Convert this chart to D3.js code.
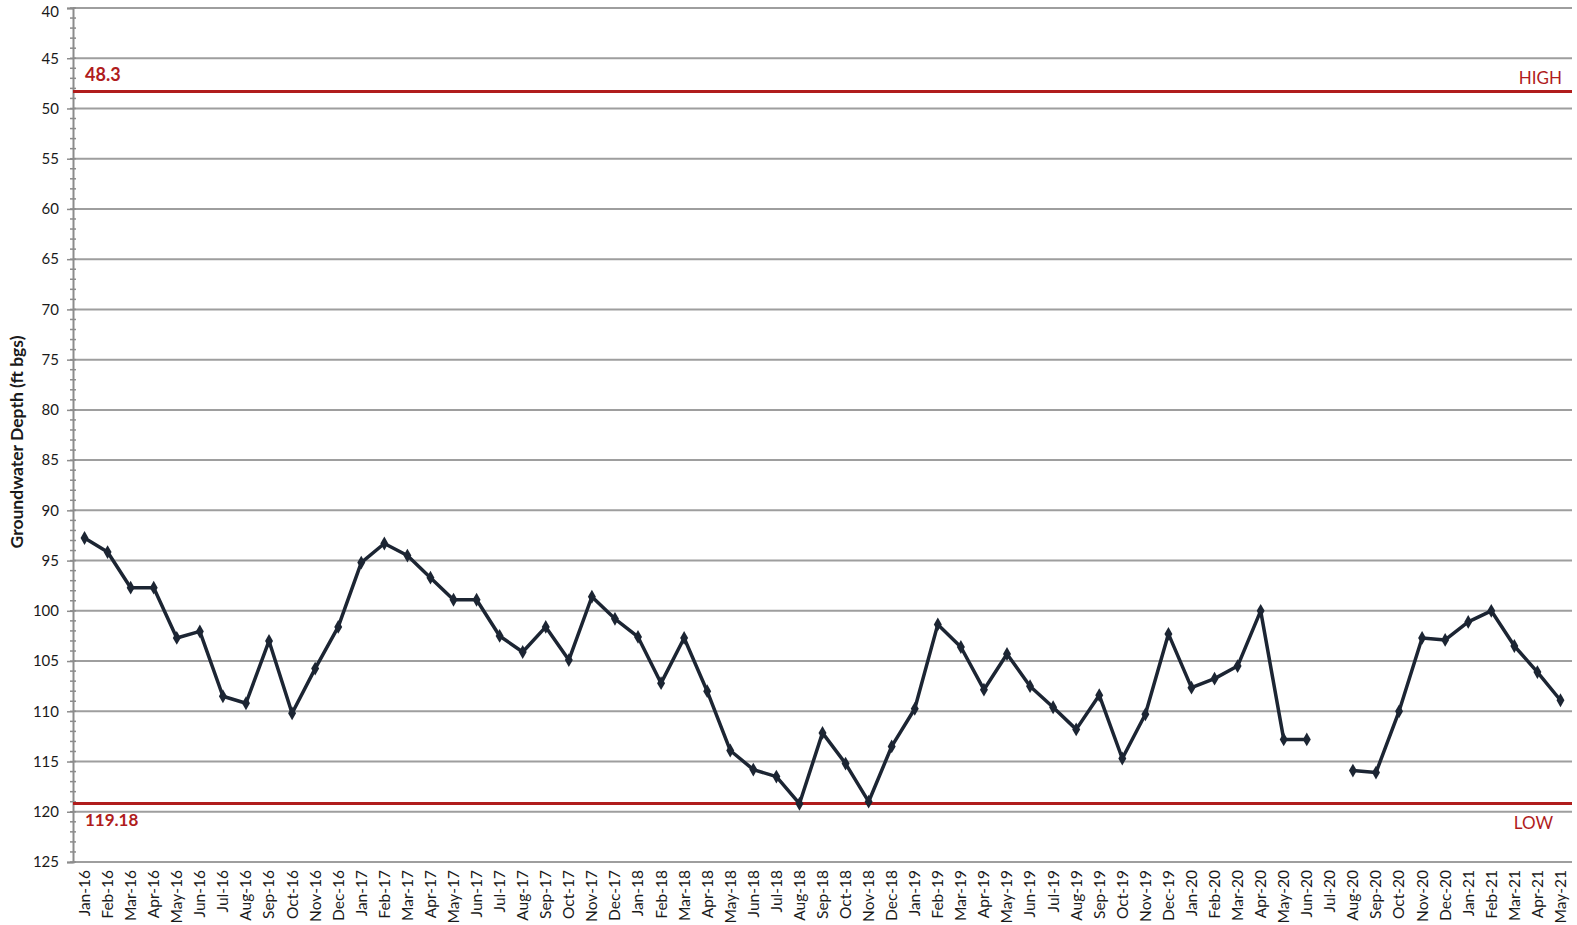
<!DOCTYPE html>
<html><head><meta charset="utf-8">
<script src="https://cdn.jsdelivr.net/npm/d3@7/dist/d3.min.js"></script>
<style>body{margin:0;background:#fff;} svg{display:block;}</style>
</head><body>
<svg id="chart" width="1577" height="925"></svg>
<script>
const months = ["Jan-16","Feb-16","Mar-16","Apr-16","May-16","Jun-16","Jul-16","Aug-16","Sep-16","Oct-16","Nov-16","Dec-16",
"Jan-17","Feb-17","Mar-17","Apr-17","May-17","Jun-17","Jul-17","Aug-17","Sep-17","Oct-17","Nov-17","Dec-17",
"Jan-18","Feb-18","Mar-18","Apr-18","May-18","Jun-18","Jul-18","Aug-18","Sep-18","Oct-18","Nov-18","Dec-18",
"Jan-19","Feb-19","Mar-19","Apr-19","May-19","Jun-19","Jul-19","Aug-19","Sep-19","Oct-19","Nov-19","Dec-19",
"Jan-20","Feb-20","Mar-20","Apr-20","May-20","Jun-20","Jul-20","Aug-20","Sep-20","Oct-20","Nov-20","Dec-20",
"Jan-21","Feb-21","Mar-21","Apr-21","May-21"];
const depth = [92.75,94.15,97.7,97.7,102.7,102.05,108.5,109.2,103.0,110.2,105.75,101.6,
95.2,93.3,94.5,96.7,98.9,98.9,102.5,104.1,101.6,104.9,98.6,100.8,
102.6,107.2,102.7,108.0,113.9,115.8,116.5,119.2,112.15,115.2,119.0,113.5,
109.75,101.35,103.6,107.85,104.3,107.5,109.6,111.8,108.4,114.7,110.3,102.3,
107.65,106.75,105.5,100.0,112.8,112.8,null,115.9,116.1,110.0,102.7,102.9,
101.1,100.0,103.5,106.1,108.9];
const yTicks = [40,45,50,55,60,65,70,75,80,85,90,95,100,105,110,115,120,125];
const highValue = 48.3, lowValue = 119.18;
const highLabel = "HIGH", lowLabel = "LOW";
const yTitle = "Groundwater Depth (ft bgs)";

(function(){
const svg = d3.select("#chart");
const pL = 73, pR = 1572, pT = 8, pB = 862;
const x = d3.scaleBand().domain(months).range([pL, pR]).paddingInner(0).paddingOuter(0);
const xc = d => x(d) + x.bandwidth()/2;
const y = d3.scaleLinear().domain([40,125]).range([pT,pB]);
const font = "Lato, 'Open Sans', sans-serif";

// gridlines
svg.append("g").selectAll("line").data(yTicks).join("line")
  .attr("x1", pL).attr("x2", pR).attr("y1", d=>y(d)).attr("y2", d=>y(d))
  .attr("stroke", "#9e9e9e").attr("stroke-width", 2);

// y axis with minor ticks
const minor = d3.range(40,126,1);
svg.append("g").selectAll("line").data(minor).join("line")
  .attr("x1", pL-3).attr("x2", pL+3).attr("y1", d=>y(d)).attr("y2", d=>y(d))
  .attr("stroke", "#8c8c8c").attr("stroke-width", 1.5);
const yAxis = svg.append("g").attr("transform", `translate(${pL},0)`)
  .call(d3.axisLeft(y).tickValues(yTicks).tickSize(6).tickPadding(8));
yAxis.select(".domain").attr("stroke", "#8c8c8c").attr("stroke-width", 2);
yAxis.selectAll(".tick line").attr("stroke", "#8c8c8c").attr("stroke-width", 1.5);
yAxis.selectAll("text").attr("font-family", font).attr("font-size", 15).attr("fill", "#1a1a1a")
  .attr("dy", d => d === 40 ? "0.55em" : "0.32em");

// x axis
const xAxis = svg.append("g").attr("transform", `translate(0,${pB})`)
  .call(d3.axisBottom(x).tickSize(0).tickPadding(8));
xAxis.select(".domain").remove();
xAxis.selectAll(".tick text")
  .attr("font-family", font).attr("font-size", 15.5).attr("fill", "#1a1a1a")
  .attr("transform", "rotate(-90)").attr("text-anchor", "end")
  .attr("x", -8).attr("y", 0).attr("dy", "0.35em");

// y title
svg.append("text").attr("transform", `translate(23,${(pT+pB)/2 + 7}) rotate(-90)`)
  .attr("text-anchor", "middle").attr("font-family", font).attr("font-weight", "bold")
  .attr("font-size", 17.5).attr("fill", "#1a1a1a").text(yTitle);

// high / low lines
const red = "#b01c1c";
[highValue, lowValue].forEach(v => {
  svg.append("line").attr("x1", pL).attr("x2", pR).attr("y1", y(v)).attr("y2", y(v))
    .attr("stroke", red).attr("stroke-width", 3);
});
svg.append("text").attr("x", 85).attr("y", y(highValue)-10).attr("font-family", font)
  .attr("font-weight", "bold").attr("font-size", 18).attr("fill", red).text(String(highValue));
svg.append("text").attr("x", 85).attr("y", y(lowValue)+22).attr("font-family", font)
  .attr("font-weight", "bold").attr("font-size", 17).attr("fill", red).text(String(lowValue));
svg.append("text").attr("x", 1562).attr("y", y(highValue)-7).attr("text-anchor", "end")
  .attr("font-family", font).attr("font-size", 17).attr("fill", red).text(highLabel);
svg.append("text").attr("x", 1553).attr("y", y(lowValue)+25).attr("text-anchor", "end")
  .attr("font-family", font).attr("font-size", 17).attr("fill", red).text(lowLabel);

// series
const pts = months.map((m,i)=>({m, v: depth[i]}));
const line = d3.line().defined(d=>d.v!=null).x(d=>xc(d.m)).y(d=>y(d.v));
svg.append("path").datum(pts).attr("d", line).attr("fill","none")
  .attr("stroke", "#1c2533").attr("stroke-width", 3.5).attr("stroke-linejoin","round");
svg.append("g").selectAll("path").data(pts.filter(d=>d.v!=null)).join("path")
  .attr("d", d3.symbol(d3.symbolDiamond, 55))
  .attr("transform", d=>`translate(${xc(d.m)},${y(d.v)})`)
  .attr("fill", "#1c2533");
})();
</script>
</body></html>
